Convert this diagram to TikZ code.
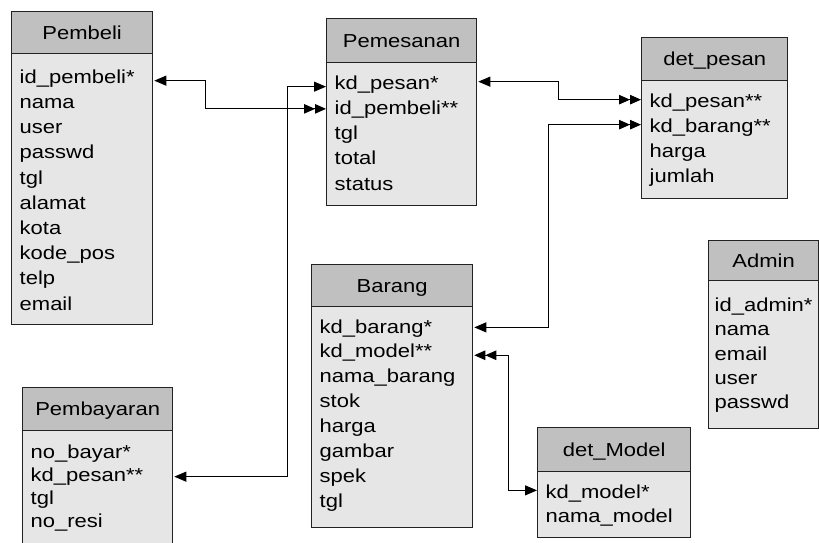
\documentclass[tikz,border=0pt]{standalone}
\usepackage{fontspec}
\setmainfont{Liberation Sans}[FakeStretch=1.17]
\usetikzlibrary{arrows.meta,calc}
\definecolor{hdrgray}{HTML}{C0C0C0}
\definecolor{bodygray}{HTML}{E6E6E6}
\definecolor{edgecol}{HTML}{222222}
\tikzset{
  one/.tip={Triangle[length=12pt,width=10pt]},
  many/.tip={Triangle[length=11pt,width=9.5pt,sep=0pt]Triangle[length=11pt,width=9.5pt,sep=0pt]},
  hdr/.style={draw=edgecol, line width=1.3pt, fill=hdrgray, anchor=north west, inner sep=0pt,
    text height=13.6pt, text depth=0pt, font=\fontsize{18.8}{22}\selectfont},
  tbody/.style={draw=edgecol, line width=1.3pt, fill=bodygray, anchor=north west, inner sep=0pt},
  fld/.style={anchor=base west, inner sep=0pt, font=\fontsize{18.8}{22}\selectfont},
  conn/.style={draw=black, line width=1pt},
}
\begin{document}
\begin{tikzpicture}[x=1pt,y=-1pt]
\useasboundingbox (0,0) rectangle (819,542);
\clip (0,0) rectangle (819,542);
\fill[white] (0,0) rectangle (819,542);

% Pembeli
\node[hdr, minimum width=141pt, minimum height=42pt] (pbH) at (11,11) {Pembeli};
\node[tbody, minimum width=141pt, minimum height=271pt] (pbB) at (11,53) {};
\node[fld] (pb1) at (19.5,83.3) {id\_pembeli*};
\node[fld] (pb2) at (19.5,108.5) {nama};
\node[fld] (pb3) at (19.5,133.7) {user};
\node[fld] (pb4) at (19.5,158.9) {passwd};
\node[fld] (pb5) at (19.5,184.1) {tgl};
\node[fld] (pb6) at (19.5,209.3) {alamat};
\node[fld] (pb7) at (19.5,234.5) {kota};
\node[fld] (pb8) at (19.5,259.7) {kode\_pos};
\node[fld] (pb9) at (19.5,284.9) {telp};
\node[fld] (pb10) at (19.5,310.1) {email};

% Pemesanan
\node[hdr, minimum width=150pt, minimum height=44pt] (psH) at (326,18) {Pemesanan};
\node[tbody, minimum width=150pt, minimum height=143pt] (psB) at (326,62) {};
\node[fld] (ps1) at (334.5,89.3) {kd\_pesan*};
\node[fld] (ps2) at (334.5,114.5) {id\_pembeli**};
\node[fld] (ps3) at (334.5,139.7) {tgl};
\node[fld] (ps4) at (334.5,164.9) {total};
\node[fld] (ps5) at (334.5,190.1) {status};

% det_pesan
\node[hdr, minimum width=146pt, minimum height=43pt] (dpH) at (641,37) {det\_pesan};
\node[tbody, minimum width=146pt, minimum height=118pt] (dpB) at (641,80) {};
\node[fld] (dp1) at (649.5,107.3) {kd\_pesan**};
\node[fld] (dp2) at (649.5,132.3) {kd\_barang**};
\node[fld] (dp3) at (649.5,157.3) {harga};
\node[fld] (dp4) at (649.5,182.3) {jumlah};

% Barang
\node[hdr, minimum width=161pt, minimum height=42pt] (brH) at (311,264) {Barang};
\node[tbody, minimum width=161pt, minimum height=221pt] (brB) at (311,306) {};
\node[fld] (br1) at (319.5,333) {kd\_barang*};
\node[fld] (br2) at (319.5,357.9) {kd\_model**};
\node[fld] (br3) at (319.5,382.8) {nama\_barang};
\node[fld] (br4) at (319.5,407.7) {stok};
\node[fld] (br5) at (319.5,432.6) {harga};
\node[fld] (br6) at (319.5,457.5) {gambar};
\node[fld] (br7) at (319.5,482.4) {spek};
\node[fld] (br8) at (319.5,507.3) {tgl};

% det_Model
\node[hdr, minimum width=153pt, minimum height=44pt] (dmH) at (537,427) {det\_Model};
\node[tbody, minimum width=153pt, minimum height=66pt] (dmB) at (537,471) {};
\node[fld] (dm1) at (545.5,498) {kd\_model*};
\node[fld] (dm2) at (545.5,522) {nama\_model};

% Admin
\node[hdr, minimum width=110pt, minimum height=40pt] (adH) at (708,240) {Admin};
\node[tbody, minimum width=110pt, minimum height=148pt] (adB) at (708,280) {};
\node[fld] (ad1) at (714.5,311.7) {id\_admin*};
\node[fld] (ad2) at (714.5,335.9) {nama};
\node[fld] (ad3) at (714.5,360.1) {email};
\node[fld] (ad4) at (714.5,384.3) {user};
\node[fld] (ad5) at (714.5,408.5) {passwd};

% Pembayaran
\node[hdr, minimum width=150pt, minimum height=43pt] (pyH) at (22,387) {Pembayaran};
\node[tbody, minimum width=150pt, minimum height=130pt] (pyB) at (22,430) {};
\node[fld] (py1) at (30.5,458) {no\_bayar*};
\node[fld] (py2) at (30.5,481.3) {kd\_pesan**};
\node[fld] (py3) at (30.5,504.6) {tgl};
\node[fld] (py4) at (30.5,527.9) {no\_resi};

% connection points
\coordinate (c1a) at ($(pbB.east |- pb1.mid)+(1pt,0pt)$);
\coordinate (c1b) at ($(psB.west |- ps2.mid)+(0pt,3pt)$);
\coordinate (c2a) at ($(pyB.east |- py2.mid)+(1pt,2pt)$);
\coordinate (c2b) at ($(psB.west |- ps1.mid)$);
\coordinate (c3a) at ($(psB.east |- ps1.mid)+(1pt,5pt)$);
\coordinate (c3b) at ($(dpB.west |- dp1.mid)+(0pt,5pt)$);
\coordinate (c4a) at ($(brB.east |- br1.mid)+(1pt,3pt)$);
\coordinate (c4b) at ($(dpB.west |- dp2.mid)+(0pt,5pt)$);
\coordinate (c5a) at ($(brB.east |- br2.mid)+(1pt,0pt)$);
\coordinate (c5b) at ($(dmB.west |- dm1.mid)+(0pt,5pt)$);

\draw[conn, one-many] (c1a) -- ++(51,0) |- (c1b);
\draw[conn, one-one] (c2a) -- ++(113,0) |- (c2b);
\draw[conn, one-many] (c3a) -- ++(80,0) |- (c3b);
\draw[conn, one-many] (c4a) -- ++(74,0) |- (c4b);
\draw[conn, many-one] (c5a) -- ++(34,0) |- (c5b);
\end{tikzpicture}
\end{document}
